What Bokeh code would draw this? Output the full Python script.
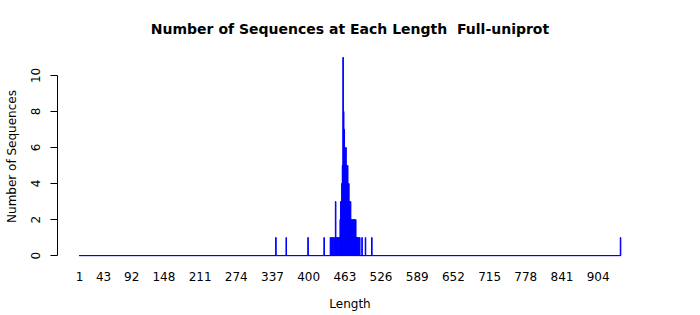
import numpy as np
from bokeh.plotting import figure
from bokeh.models import Range1d, FixedTicker
from bokeh.embed import file_html
from bokeh.resources import INLINE

# Sequence lengths with non-zero counts
seq_lengths = [343, 361, 399, 427, 438, 440, 442, 444, 446, 447, 449, 450, 451, 453,
               454, 455, 456, 457, 458, 459, 460, 461, 462, 463, 464, 465, 466, 467,
               468, 469, 470, 471, 472, 473, 474, 475, 476, 477, 478, 479, 480, 481,
               482, 483, 484, 485, 487, 489, 493, 499, 510, 943]
seq_counts = [1, 1, 1, 1, 1, 1, 1, 1, 1, 3, 1, 1, 1, 1,
              1, 2, 3, 3, 4, 5, 11, 8, 7, 6, 5, 6, 5, 4,
              5, 3, 4, 3, 2, 3, 2, 2, 1, 2, 2, 1, 2, 1,
              2, 1, 1, 1, 1, 1, 1, 1, 1, 1]
min_length = 1
max_length = 943

x_tick_labels = [1, 43, 92, 148, 211, 274, 337, 400, 463, 526, 589, 652, 715, 778, 841, 904]
y_ticks = [0, 2, 4, 6, 8, 10]

all_lengths = np.arange(min_length, max_length + 1)
all_counts = np.zeros(len(all_lengths))
for L, c in zip(seq_lengths, seq_counts):
    all_counts[L - min_length] = c

span = (max_length + 0.5) - (min_length - 0.5)
ymax = max(seq_counts)

p = figure(width=700, height=315, output_backend="svg", toolbar_location=None,
           x_range=Range1d(min_length - 0.5 - 0.04 * span, max_length + 0.5 + 0.04 * span),
           y_range=Range1d(-0.04 * ymax, ymax * 1.04),
           title="Number of Sequences at Each Length \u00a0Full-uniprot",
           min_border_left=57, min_border_right=58, min_border_top=49, min_border_bottom=52)

p.vbar(x=all_lengths, top=all_counts, bottom=0, width=1.0,
       fill_color="#0000FF", line_color="#0000FF", line_width=1)
p.line(x=[min_length - 0.5, max_length + 0.5], y=[0, 0], line_color="#0000FF", line_width=1)

p.outline_line_color = None
p.xgrid.visible = False
p.ygrid.visible = False
p.background_fill_color = "white"
p.border_fill_color = "white"

p.title.align = "center"
p.title.text_font = "DejaVu Sans"
p.title.text_font_size = "14px"
p.title.text_font_style = "bold"
p.title.text_color = "black"
p.title.text_line_height = 1.0
p.title.standoff = 25

xa = p.xaxis[0]
xa.ticker = FixedTicker(ticks=x_tick_labels)
xa.axis_line_color = None
xa.major_tick_line_color = None
xa.minor_tick_line_color = None
xa.major_tick_out = 0
xa.major_tick_in = 0
xa.major_label_standoff = 8
xa.major_label_text_font = "DejaVu Sans"
xa.major_label_text_font_size = "12px"
xa.major_label_text_color = "black"
xa.axis_label = "Length"
xa.axis_label_text_font = "DejaVu Sans"
xa.axis_label_text_font_size = "12px"
xa.axis_label_text_font_style = "normal"
xa.axis_label_text_color = "black"
xa.axis_label_standoff = 13

ya = p.yaxis[0]
ya.ticker = FixedTicker(ticks=y_ticks)
ya.bounds = (y_ticks[0], y_ticks[-1])
ya.axis_line_color = "black"
ya.major_tick_line_color = "black"
ya.minor_tick_line_color = None
ya.major_tick_out = 7
ya.major_tick_in = 0
ya.major_label_orientation = "vertical"
ya.major_label_standoff = 10
ya.major_label_text_font = "DejaVu Sans"
ya.major_label_text_font_size = "12px"
ya.major_label_text_color = "black"
ya.axis_label = "Number of Sequences"
ya.axis_label_text_font = "DejaVu Sans"
ya.axis_label_text_font_size = "12px"
ya.axis_label_text_font_style = "normal"
ya.axis_label_text_color = "black"
ya.axis_label_standoff = 10

open("out.html", "w").write(file_html(p, INLINE))
